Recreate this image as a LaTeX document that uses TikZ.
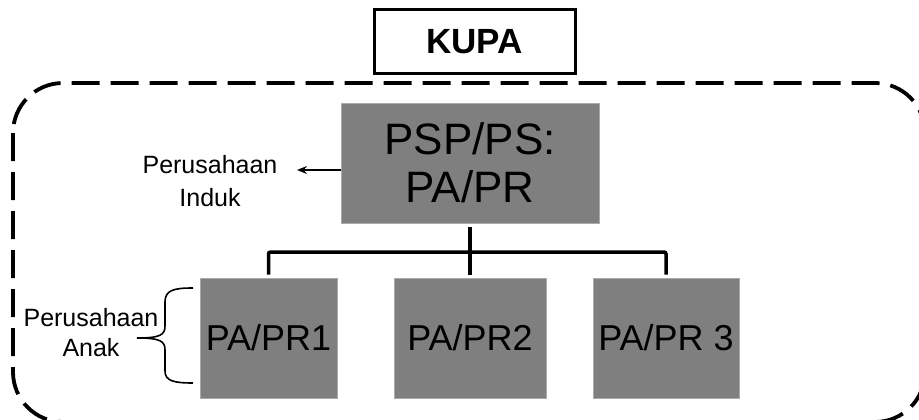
\documentclass[tikz,border=0pt]{standalone}
\usepackage{fontspec}
\setmainfont{Liberation Sans}
\usetikzlibrary{arrows.meta}
\definecolor{boxgray}{RGB}{127,127,127}
\definecolor{boxedge}{RGB}{170,170,170}
\begin{document}
\begin{tikzpicture}[x=1pt,y=-1pt,
  gbox/.style={fill=boxgray, draw=boxedge, line width=0.7pt, inner sep=0pt, align=center, text=black},
  bigtxt/.style={font=\fontsize{44}{50}\selectfont},
  midtxt/.style={font=\fontsize{36}{40}\selectfont},
  lbl/.style={font=\fontsize{25}{32}\selectfont, align=center, inner sep=0pt},
  conn/.style={draw=black, line width=3.5pt, rounded corners=2pt},
  ptr/.style={draw=black, line width=1.4pt, -{Stealth[length=10pt,width=8pt]}},
  bracepath/.style={draw=black, line width=1.6pt},
  outline/.style={draw=black, line width=3.8pt, dash pattern=on 28pt off 11pt, rounded corners=50pt}]
\useasboundingbox (0,0) rectangle (919,420);
\clip (0,0) rectangle (919,420);

% outer dashed frame
\draw[outline] (13,83) rectangle (925,422);

% KUPA box
\node[draw=black, line width=3pt, minimum width=201pt, minimum height=64pt, inner sep=0pt,
      font=\fontsize{35}{40}\selectfont\bfseries] (kupa) at (474.5,42) {KUPA};

% boxes
\node[gbox, bigtxt, minimum width=258pt, minimum height=120pt] (psp) at (470,163) {PSP/PS:\\[-2pt]PA/PR};
\node[gbox, midtxt, minimum width=137pt, minimum height=120pt] (pa1) at (268.5,338) {PA/PR1};
\node[gbox, midtxt, minimum width=152pt, minimum height=120pt] (pa2) at (470,338) {PA/PR2};
\node[gbox, midtxt, minimum width=146pt, minimum height=120pt] (pa3) at (666,338) {PA/PR 3};

% connectors
\coordinate (bus) at (470,252);
\draw[conn] ([yshift=3pt]pa1.north) |- (bus) -| ([yshift=3pt]pa3.north);
\draw[conn] ([yshift=-4pt]psp.south) -- ([yshift=3pt]pa2.north);

% Perusahaan Induk
\node[lbl, font=\fontsize{25}{33}\selectfont] (induk) at (210,181) {Perusahaan\\Induk};
\coordinate (tip) at (297,170);
\draw[ptr] ([yshift=-7pt]psp.west) -- (tip);

% Perusahaan Anak
\node[lbl, font=\fontsize{25}{30}\selectfont] (anak) at (91,333) {Perusahaan\\Anak};
\draw[bracepath] (193,288) .. controls (174,288) and (165,290) .. (165,302)
  -- (165,326) .. controls (165,335) and (160,338) .. (137,338)
  .. controls (160,338) and (165,341) .. (165,350)
  -- (165,371) .. controls (165,381) and (174,383) .. (193,383);
\end{tikzpicture}
\end{document}
